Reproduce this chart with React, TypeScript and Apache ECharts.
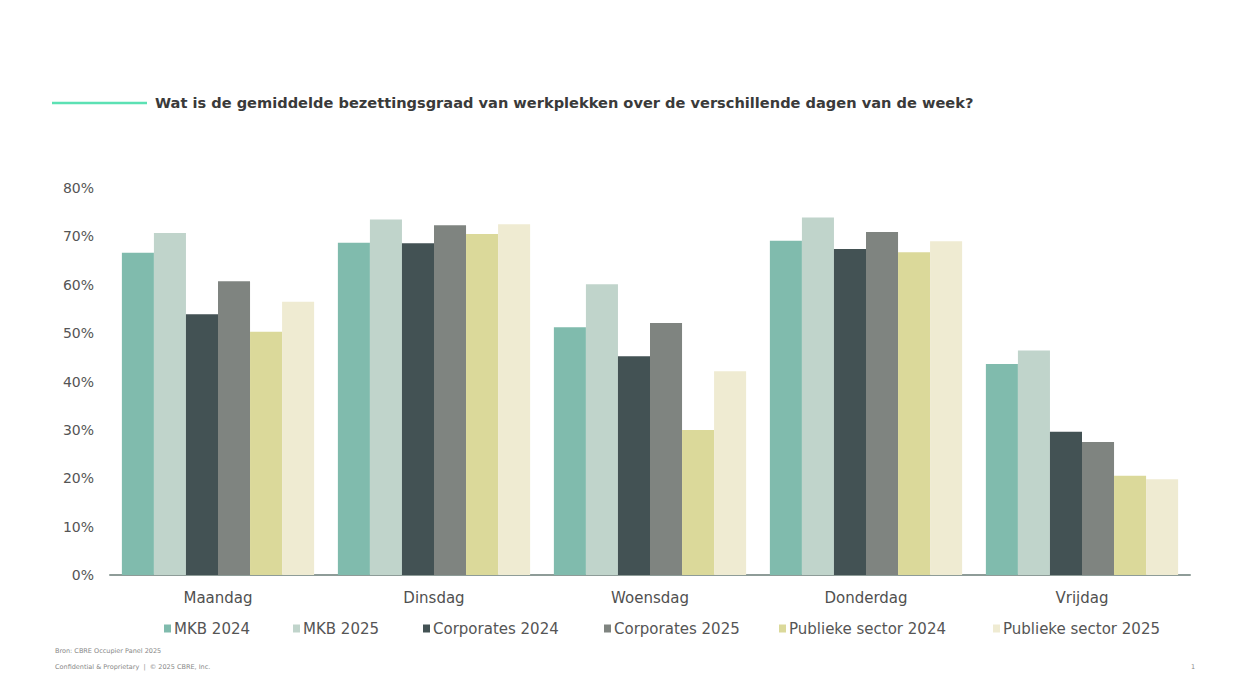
import React, { useEffect, useRef } from "react";
import * as echarts from "echarts";

const days = ["Maandag", "Dinsdag", "Woensdag", "Donderdag", "Vrijdag"];
const seriesNames = [
  "MKB 2024",
  "MKB 2025",
  "Corporates 2024",
  "Corporates 2025",
  "Publieke sector 2024",
  "Publieke sector 2025",
];
const mkb2024 = [66.6, 68.7, 51.2, 69.1, 43.6];
const mkb2025 = [70.7, 73.5, 60.1, 73.9, 46.4];
const corporates2024 = [53.9, 68.6, 45.2, 67.4, 29.6];
const corporates2025 = [60.7, 72.3, 52.1, 70.9, 27.5];
const publiek2024 = [50.3, 70.5, 30.0, 66.7, 20.5];
const publiek2025 = [56.5, 72.5, 42.1, 69.0, 19.8];
const seriesValues = [mkb2024, mkb2025, corporates2024, corporates2025, publiek2024, publiek2025];
const colors = ["#80BBAD", "#C0D4CB", "#435254", "#7F8480", "#DBD99A", "#EFEBD2"];
const legendLefts = [159, 288, 418, 599, 774, 988];

const titleText =
  "Wat is de gemiddelde bezettingsgraad van werkplekken over de verschillende dagen van de week?";
const sourceText = "Bron: CBRE Occupier Panel 2025";
const footerText = "Confidential & Proprietary  |  © 2025 CBRE, Inc.";

const FONT = "DejaVu Sans";

export default function App() {
  const ref = useRef<HTMLDivElement>(null);
  useEffect(() => {
    if (!ref.current) return;
    const chart = echarts.init(ref.current, null, { renderer: "svg" });
    chart.setOption({
      animation: false,
      backgroundColor: "#ffffff",
      textStyle: { fontFamily: FONT },
      grid: { left: 110, right: 56, top: 188, bottom: 125, containLabel: false },
      xAxis: {
        type: "category",
        data: days,
        axisLine: { lineStyle: { color: "#8E9C98", width: 2 } },
        axisTick: { show: false },
        axisLabel: { color: "#505050", fontSize: 15, margin: 15, fontFamily: FONT },
      },
      yAxis: {
        type: "value",
        min: 0,
        max: 80,
        interval: 10,
        splitLine: { show: false },
        axisLine: { show: false },
        axisTick: { show: false },
        axisLabel: {
          color: "#555",
          fontSize: 14,
          margin: 16,
          fontFamily: FONT,
          formatter: (v: number) => `${v}%`,
        },
      },
      legend: seriesNames.map((name, i) => ({
        data: [name],
        left: legendLefts[i],
        top: 616,
        icon: "rect",
        itemWidth: 7,
        itemHeight: 8,
        itemGap: 0,
        textStyle: { color: "#555", fontSize: 15, fontFamily: FONT, padding: [0, 0, 0, -2] },
        selectedMode: false,
      })),
      graphic: [
        {
          type: "line",
          shape: { x1: 52, y1: 103, x2: 147, y2: 103 },
          style: { stroke: "#5CE1B4", lineWidth: 2.5 },
        },
        {
          type: "text",
          left: 155,
          top: 95,
          style: {
            text: titleText,
            fill: "#3a3a3a",
            font: `600 14.6px "${FONT}"`,
          },
        },
        {
          type: "text",
          left: 55,
          top: 647,
          style: { text: sourceText, fill: "#888", font: `6.5px "${FONT}"` },
        },
        {
          type: "text",
          left: 55,
          top: 663,
          style: { text: footerText, fill: "#888", font: `6.5px "${FONT}"` },
        },
        {
          type: "text",
          left: 1191,
          top: 663,
          style: { text: "1", fill: "#888", font: `6.5px "${FONT}"` },
        },
      ],
      series: seriesNames.map((name, i) => ({
        name,
        type: "bar",
        data: seriesValues[i],
        barGap: "0%",
        barCategoryGap: "11%",
        itemStyle: { color: colors[i] },
      })),
    });
    return () => chart.dispose();
  }, []);
  return (
    <div
      ref={ref}
      style={{ position: "absolute", left: 0, top: 0, width: 1246, height: 700 }}
    />
  );
}
